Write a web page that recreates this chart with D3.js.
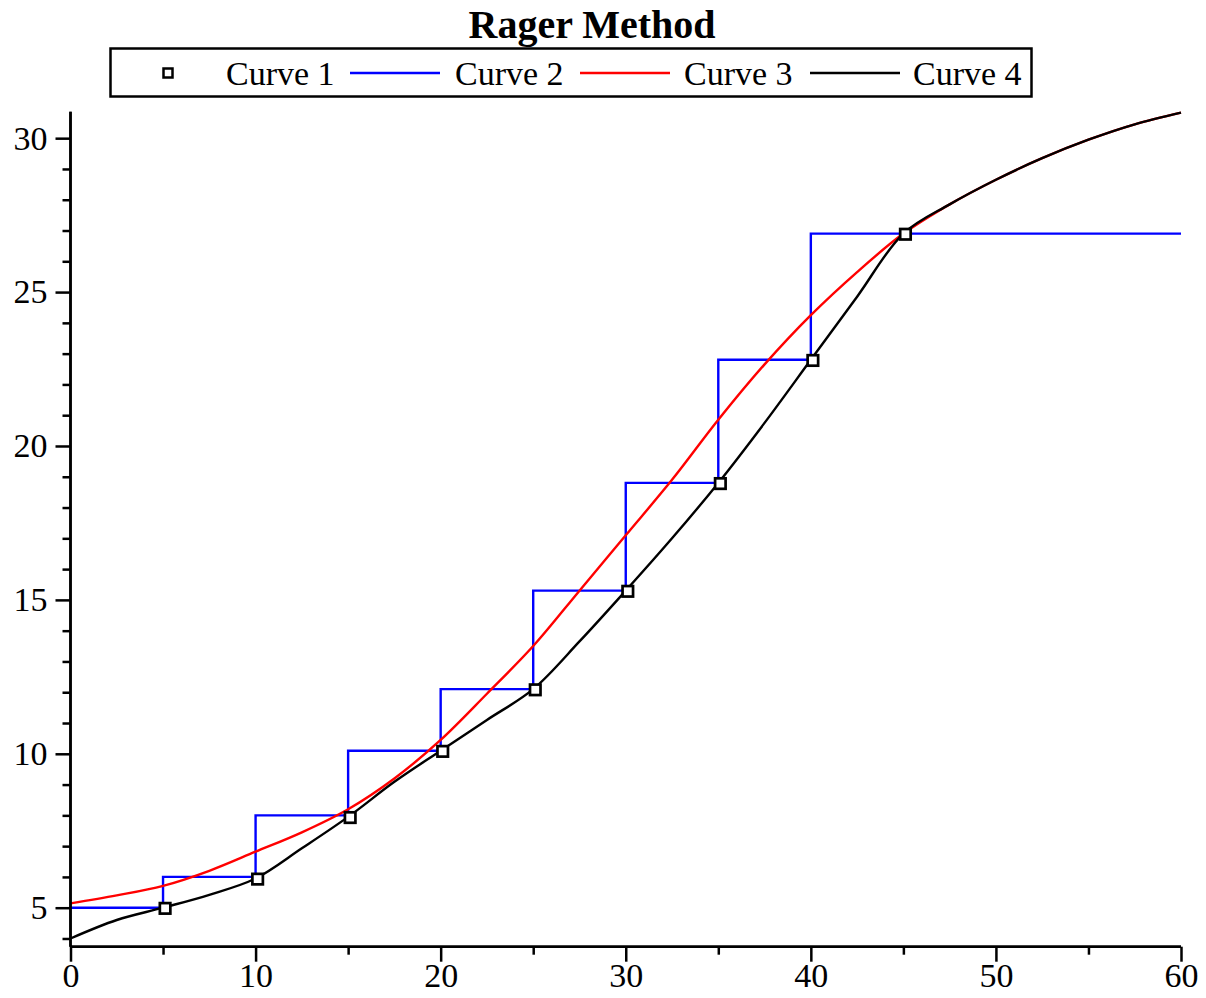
<!DOCTYPE html>
<html><head><meta charset="utf-8">
<script src="https://cdn.jsdelivr.net/npm/d3@7"></script>
<style>body{margin:0;background:#fff}svg{display:block}</style>
</head><body>
<script>
const title = "Rager Method";
const seriesNames = ["Curve 1","Curve 2","Curve 3","Curve 4"];
// Curve 1: data points (squares)
const c1x = [5,10,15,20,25,30,35,40,45];
const c1y = [5.0,5.95,7.95,10.1,12.1,15.3,18.8,22.8,26.9];
// Curve 2: step line
const c2x = [0,5,5,10,10,15,15,20,20,25,25,30,30,35,35,40,40,60];
const c2y = [5.0,5.0,6.0,6.0,8.0,8.0,10.1,10.1,12.1,12.1,15.3,15.3,18.8,18.8,22.8,22.8,26.9,26.9];
// Curve 3: red smooth
const c3x = [0,2.5,5,7.5,10,12.5,15,17.5,20,22.5,25,27.5,30,32.5,35,37.5,40,42.5,45,47.5,50,52.5,55,57.5,60];
const c3y = [5.14,5.4,5.71,6.2,6.82,7.45,8.2,9.2,10.45,11.95,13.5,15.3,17.1,18.9,20.85,22.65,24.25,25.65,26.9,27.85,28.65,29.35,29.95,30.45,30.83];
// Curve 4: black smooth
const c4x = [0,2.5,5,7.5,10,12.5,15,17.5,20,22.5,25,27.5,30,32.5,35,37.5,40,42.5,45,47.5,50,52.5,55,57.5,60];
const c4y = [4.0,4.6,5.0,5.42,5.95,6.93,7.95,9.09,10.1,11.1,12.1,13.65,15.3,17.0,18.8,20.75,22.8,24.85,26.9,27.85,28.65,29.35,29.95,30.45,30.83];
const xTicks = [0,10,20,30,40,50,60];
const xMinor = [5,15,25,35,45,55];
const yTicks = [5,10,15,20,25,30];
const yMinor = [4,6,7,8,9,11,12,13,14,16,17,18,19,21,22,23,24,26,27,28,29];
const xDomain = [0,60];
const yDomain = [3.733,30.86];

const W=1206,H=998;
const svg=d3.select("body").append("svg").attr("width",W).attr("height",H);
const x=d3.scaleLinear().domain(xDomain).range([70.5,1181]);
const y=d3.scaleLinear().domain(yDomain).range([946.7,111.7]);
const serif="'Liberation Serif','Times New Roman',serif";

// title
svg.append("text").attr("x",592).attr("y",38).attr("text-anchor","middle")
  .attr("font-family",serif).attr("font-weight","bold").attr("font-size",40).text(title);

// legend
svg.append("rect").attr("x",110.5).attr("y",48.5).attr("width",921).attr("height",48)
  .attr("fill","#fff").attr("stroke","#000").attr("stroke-width",2.5);
const legColors=[null,"#0000ff","#ff0000","#000000"];
const legSym=[168,350,580,810];
const legText=[226,455,684,913];
seriesNames.forEach((n,i)=>{
  if(i===0){
    svg.append("rect").attr("x",legSym[i]-4.5).attr("y",73-4.5).attr("width",9).attr("height",9)
      .attr("fill","#fff").attr("stroke","#000").attr("stroke-width",2.5);
  } else {
    svg.append("line").attr("x1",legSym[i]).attr("x2",legSym[i]+90).attr("y1",73).attr("y2",73)
      .attr("stroke",legColors[i]).attr("stroke-width",2.5);
  }
  svg.append("text").attr("x",legText[i]).attr("y",85).attr("font-family",serif)
    .attr("font-size",34).text(n);
});

// lines
const line=(xs,ys,curve)=>d3.line().x(d=>x(d[0])).y(d=>y(d[1])).curve(curve)(xs.map((v,i)=>[v,ys[i]]));
svg.append("path").attr("d",line(c2x,c2y,d3.curveLinear)).attr("fill","none").attr("stroke","#0000ff").attr("stroke-width",2.4);
svg.append("path").attr("d",line(c3x,c3y,d3.curveCatmullRom.alpha(0.5))).attr("fill","none").attr("stroke","#ff0000").attr("stroke-width",2.4);
svg.append("path").attr("d",line(c4x,c4y,d3.curveCatmullRom.alpha(0.5))).attr("fill","none").attr("stroke","#000").attr("stroke-width",2.4);

// squares
svg.selectAll("rect.pt").data(c1x.map((v,i)=>[v,c1y[i]])).enter().append("rect").attr("class","pt")
  .attr("x",d=>x(d[0])-3.2).attr("y",d=>y(d[1])-4.6).attr("width",10.5).attr("height",10.5)
  .attr("fill","#fff").attr("stroke","#000").attr("stroke-width",2.7);

// axes
const ax=svg.append("g").attr("transform",`translate(0,${y.range()[0]})`);
ax.call(d3.axisBottom(x).tickValues(xTicks).tickSize(15).tickPadding(1).tickFormat(d3.format("d")));
ax.append("g").call(d3.axisBottom(x).tickValues(xMinor).tickSize(8).tickFormat(""));
const ay=svg.append("g").attr("transform",`translate(${x.range()[0]},0)`);
ay.call(d3.axisLeft(y).tickValues(yTicks).tickSize(15).tickPadding(8).tickFormat(d3.format("d")));
ay.append("g").call(d3.axisLeft(y).tickValues(yMinor).tickSize(8).tickFormat(""));
svg.selectAll(".domain").attr("stroke","#000").attr("stroke-width",2.5);
svg.selectAll(".tick line").attr("stroke","#000").attr("stroke-width",2.5);
svg.selectAll(".tick text").attr("font-family",serif).attr("font-size",34).attr("fill","#000");
ax.selectAll(".domain").attr("d",`M${x.range()[0]},0H${x.range()[1]}`);
ay.selectAll(".domain").attr("d",`M0,${y.range()[0]}V${y.range()[1]}`);
</script>
</body></html>
